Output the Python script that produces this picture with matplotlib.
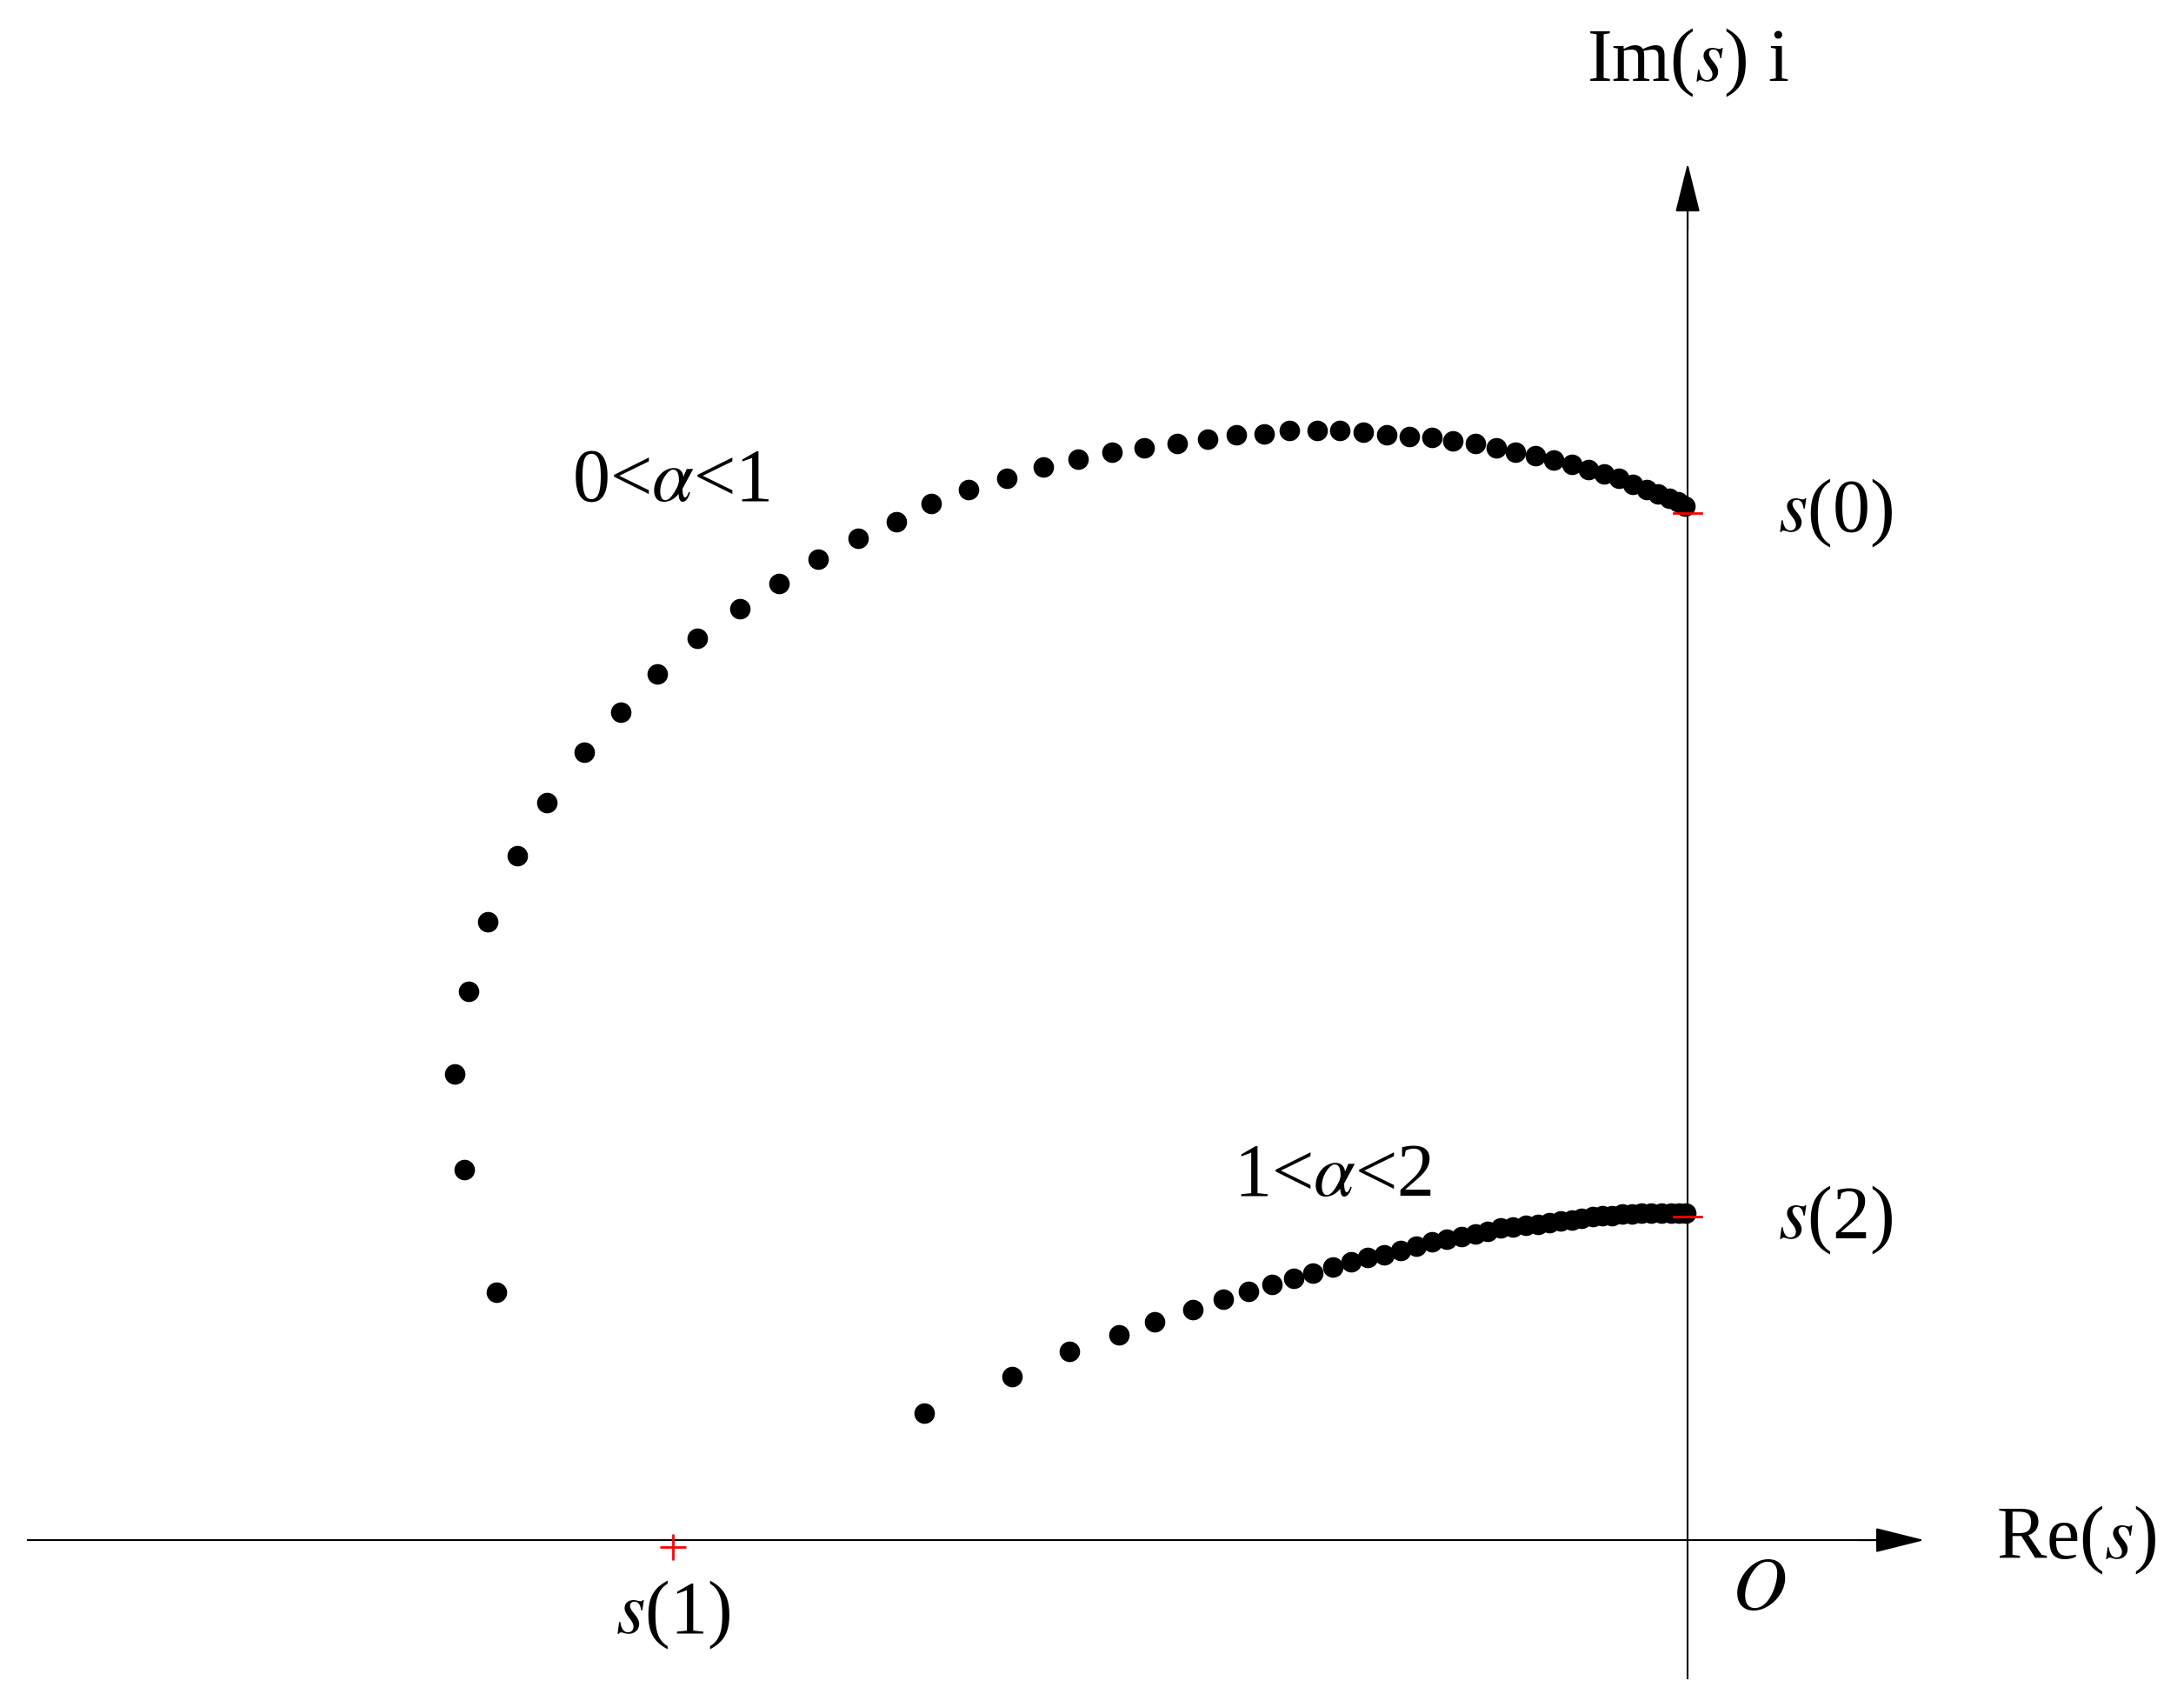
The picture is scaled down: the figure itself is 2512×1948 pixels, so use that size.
import numpy as np
import matplotlib
matplotlib.use("Agg")
import matplotlib.pyplot as plt

plt.rcParams['font.family'] = ['Liberation Serif', 'DejaVu Serif']
plt.rcParams['mathtext.fontset'] = 'stix'

# values, in units where s(0) = 1i
upper_re = np.array([355,332,325,335,349,370,391,418,444,470,499,529,557,585,614,641,666,693,720,746,
                     771,795,818,842,864,884,904,922,942,958,975,992,1008,1024,1039,1055,1070,1084,
                     1098,1111,1124,1136,1147,1158,1168,1178,1186,1194,1200,1205])
upper_im = np.array([924,836,768,709,659,612,574,538,509,482,456,435,417,400,385,373,360,350,342,334,
                     328,323,320,317,314,311,310,308,308,308,309,311,312,313,315,317,320,323,
                     326,329,332,336,339,342,346,350,353,356,359,362])
lower_re = np.array([661,724,765,800,826,853,875,893,910,925,939,953,966,978,990,1002,1013,1024,1035,
                     1045,1055,1064,1073,1082,1091,1100,1108,1116,1124,1131,1139,1146,1153,1160,1167,
                     1174,1181,1188,1195,1201,1206])
lower_im = np.array([1010,984,966,954,945,936,929,923,918,914,910,906,902,899,897,894,891,888,886,
                     884,882,880,878,877,876,875,874,873,872,871,870,869,869,868,868,867,867,867,
                     867,867,867])
# picture pixels -> complex-plane units
ox, oy, unit = 1207, 1101, 734.0
upper_re = (upper_re - ox) / unit
upper_im = (oy - upper_im) / unit
lower_re = (lower_re - ox) / unit
lower_im = (oy - lower_im) / unit

s0 = (0.0, 1.0)
s2 = (0.0, 0.315)
s1 = (-0.989, -0.007)

fig = plt.figure(figsize=(25.12, 19.48), dpi=100)
ax = fig.add_axes([0, 0, 1, 1])
ax.set_xlim(-1207/unit, 355/unit)
ax.set_ylim(-110/unit, 1101/unit)
ax.axis('off')

# axes with arrows
ax.plot([-1187/unit, 140/unit], [0, 0], color='black', lw=1.5)
ax.plot([0, 0], [-99/unit, 960/unit], color='black', lw=1.5)
ax.annotate('', xy=(171/unit, 0), xytext=(120/unit, 0),
            arrowprops=dict(arrowstyle='-|>,head_length=3.6,head_width=0.9', color='black', lw=1.5))
ax.annotate('', xy=(0, 986/unit), xytext=(0, 935/unit),
            arrowprops=dict(arrowstyle='-|>,head_length=3.6,head_width=0.9', color='black', lw=1.5))

ax.plot(upper_re, upper_im, 'o', color='black', ms=16)
ax.plot(lower_re, lower_im, 'o', color='black', ms=16)

# red marks
for p in (s0, s2):
    ax.plot([p[0] - 10/unit, p[0] + 10/unit], [p[1], p[1]], color='red', lw=2)
ax.plot([s1[0]], [s1[1]], '+', color='red', ms=22, mew=2)

fs = 62
ax.text(0, 1056/unit, r'Im($s$) i', fontsize=fs, ha='center', va='center')
ax.text(278/unit, 0, r'Re($s$)', fontsize=fs, ha='center', va='center')
ax.text(51/unit, -37/unit, r'$O$', fontsize=fs, ha='center', va='center')
ax.text(106/unit, s0[1], r'$s$(0)', fontsize=fs, ha='center', va='center')
ax.text(106/unit, s2[1] - 0.004, r'$s$(2)', fontsize=fs, ha='center', va='center')
ax.text(s1[0], -54/unit, r'$s$(1)', fontsize=fs, ha='center', va='center')
ax.text(-727/unit, 756/unit, r'0<$\alpha$<1', fontsize=fs, ha='center', va='center')
ax.text(-254/unit, 259/unit, r'1<$\alpha$<2', fontsize=fs, ha='center', va='center')

fig.savefig('out.png', dpi=100)
